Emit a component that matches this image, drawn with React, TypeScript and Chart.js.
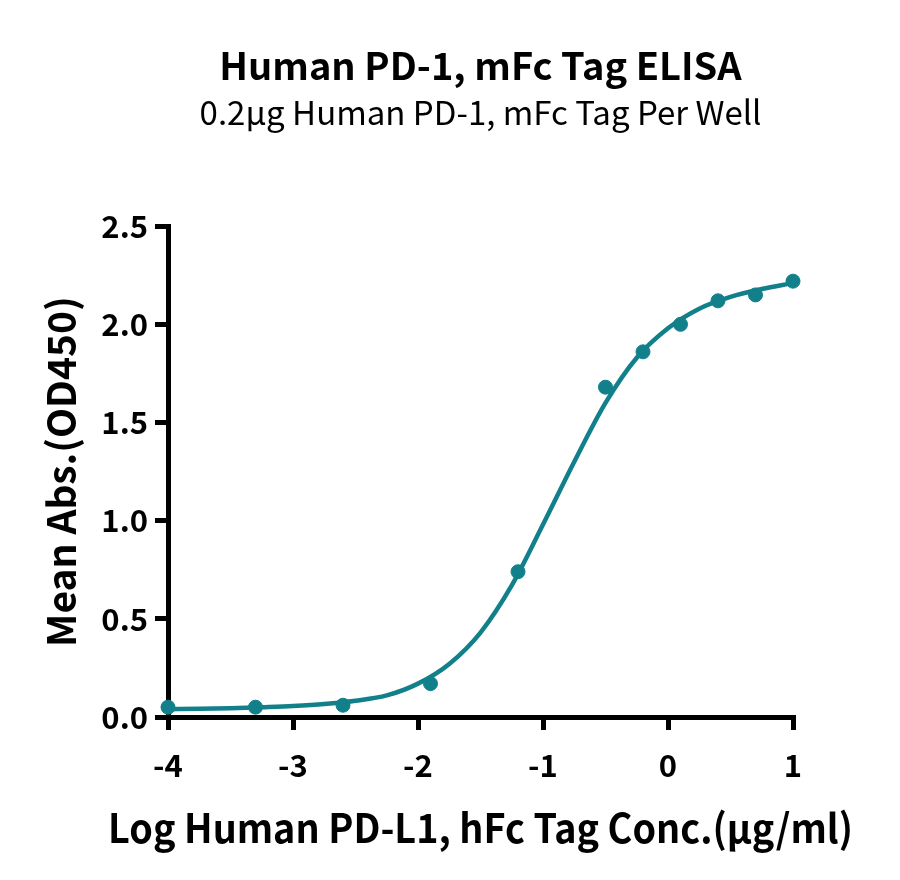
import React, { useEffect, useRef } from "react";
import Chart from "chart.js/auto";

// log concentration (µg/ml) of the measured wells
const logConc = [-4, -3.3, -2.6, -1.9, -1.2, -0.5, -0.2, 0.1, 0.4, 0.7, 1];
const meanAbs = [0.05, 0.05, 0.06, 0.17, 0.74, 1.68, 1.86, 2.0, 2.12, 2.15, 2.22];

// fitted curve
const fitX = [-4, -3.75, -3.5, -3.25, -3, -2.75, -2.5, -2.25, -2, -1.75, -1.5, -1.25, -1, -0.75, -0.5, -0.25, 0, 0.25, 0.5, 0.75, 1];
const fitY = [0.04, 0.042, 0.045, 0.05, 0.056, 0.066, 0.083, 0.11, 0.17, 0.27, 0.43, 0.67, 0.98, 1.3, 1.6, 1.83, 1.98, 2.08, 2.14, 2.18, 2.21];

const xTicks = [-4, -3, -2, -1, 0, 1];
const yTicks = [0, 0.5, 1, 1.5, 2, 2.5];

const X_TITLE = "Log Human PD-L1, hFc Tag Conc.(μg/ml)";
const TEAL = "#12808a";
const FONT = "'Noto Sans CJK SC', 'Noto Sans', sans-serif";

// the x title is wider than the axis, chart.js would squeeze it, so draw it here
const xTitlePlugin = {
  id: "xTitle",
  afterDraw(chart: Chart) {
    const { ctx, chartArea } = chart;
    ctx.save();
    ctx.font = `bold 40px ${FONT}`;
    ctx.fillStyle = "#000";
    ctx.textAlign = "center";
    ctx.textBaseline = "middle";
    ctx.fillText(X_TITLE, (chartArea.left + chartArea.right) / 2, 828, 745);
    ctx.restore();
  },
};

function App() {
  const canvasRef = useRef<HTMLCanvasElement | null>(null);

  useEffect(() => {
    const ctx = canvasRef.current?.getContext("2d");
    if (!ctx) return;

    const chart = new Chart(ctx, {
      type: "scatter",
      data: {
        datasets: [
          {
            type: "line",
            data: fitX.map((x, i) => ({ x, y: fitY[i] })),
            borderColor: TEAL,
            borderWidth: 4.5,
            pointRadius: 0,
            cubicInterpolationMode: "monotone",
            clip: false,
          },
          {
            data: logConc.map((x, i) => ({ x, y: meanAbs[i] })),
            backgroundColor: TEAL,
            borderColor: TEAL,
            pointRadius: 7,
            clip: false,
          },
        ],
      },
      options: {
        responsive: false,
        animation: false,
        layout: { padding: { left: 0, right: 107, top: 0, bottom: 0 } },
        plugins: {
          legend: { display: false },
          tooltip: { enabled: false },
          title: {
            display: true,
            fullSize: false,
            text: "Human PD-1, mFc Tag ELISA",
            color: "#000",
            font: { family: FONT, size: 38, weight: "bold" },
            padding: { top: 43, bottom: 4 },
          },
          subtitle: {
            display: true,
            fullSize: false,
            text: "0.2μg Human PD-1, mFc Tag Per Well",
            color: "#000",
            font: { family: FONT, size: 33, weight: "normal" },
            padding: { top: 0, bottom: 94 },
          },
        },
        scales: {
          x: {
            type: "linear",
            min: -4,
            max: 1,
            afterBuildTicks: (scale) => {
              scale.ticks = xTicks.map((v) => ({ value: v }));
            },
            afterFit: (scale) => {
              scale.height = 880 - 717;
            },
            border: { color: "#000", width: 5 },
            grid: { drawOnChartArea: false, color: "#000", tickLength: 13, lineWidth: 5 },
            ticks: {
              color: "#000",
              padding: 17,
              font: { family: FONT, size: 31, weight: "bold" },
              callback: (v) => String(v),
            },
            title: { display: false },
          },
          y: {
            min: 0,
            max: 2.5,
            afterBuildTicks: (scale) => {
              scale.ticks = yTicks.map((v) => ({ value: v }));
            },
            afterFit: (scale) => {
              scale.width = 168;
            },
            border: { color: "#000", width: 5 },
            grid: { drawOnChartArea: false, color: "#000", tickLength: 13, lineWidth: 5 },
            ticks: {
              color: "#000",
              padding: 7,
              font: { family: FONT, size: 31, weight: "bold" },
              callback: (v) => Number(v).toFixed(1),
            },
            title: {
              display: true,
              text: "Mean Abs.(OD450)",
              color: "#000",
              font: { family: FONT, size: 39, weight: "bold" },
              padding: { top: 38, bottom: 0 },
            },
          },
        },
      },
      plugins: [xTitlePlugin],
    });

    return () => {
      chart.destroy();
    };
  }, []);

  return (
    <div style={{ position: "absolute", left: 0, top: 0, width: 900, height: 880, background: "#fff" }}>
      <canvas ref={canvasRef} width={900} height={880} />
    </div>
  );
}

export default App;
